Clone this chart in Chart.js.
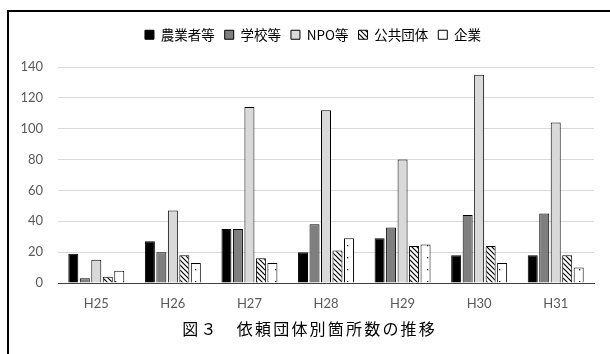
<!DOCTYPE html>
<html>
<head>
<meta charset="utf-8">
<script src="https://cdn.jsdelivr.net/npm/chart.js@4/dist/chart.umd.min.js"></script>
<style>
  html, body { margin: 0; padding: 0; background: #fff; }
  #wrap { position: relative; width: 610px; height: 354px; }
  #frame { position: absolute; left: 7px; top: 10px; width: 620px; height: 360px;
           border-left: 2px solid #000; border-top: 2px solid #000; pointer-events: none; }
  canvas { position: absolute; left: 0; top: 0; }
</style>
</head>
<body>
<div id="wrap">
  <canvas id="chart" width="610" height="354"></canvas>
  <div id="frame"></div>
</div>
<script>
// 年度
const years = ['H25', 'H26', 'H27', 'H28', 'H29', 'H30', 'H31'];
// 依頼団体別の箇所数
const farmers  = [19, 27, 35, 20, 29, 18, 18];     // 農業者等
const schools  = [3, 20, 35, 38, 36, 44, 45];      // 学校等
const npos     = [15, 47, 114, 112, 80, 135, 104]; // NPO等
const publicOrgs = [4, 18, 16, 21, 24, 24, 18];    // 公共団体
const companies  = [8, 13, 13, 29, 25, 13, 10];    // 企業
const yTicks = [0, 20, 40, 60, 80, 100, 120, 140];
const caption = '図３　依頼団体別箇所数の推移';

function hatchPattern() {
  const c = document.createElement('canvas');
  c.width = 5; c.height = 5;
  const g = c.getContext('2d');
  g.fillStyle = '#fff'; g.fillRect(0, 0, 5, 5);
  g.strokeStyle = '#000'; g.lineWidth = 1.2;
  g.beginPath();
  g.moveTo(-1, -1); g.lineTo(6, 6);
  g.moveTo(-1, 4); g.lineTo(1, 6);
  g.moveTo(4, -1); g.lineTo(6, 1);
  g.stroke();
  return g.createPattern(c, 'repeat');
}
function dotPattern() {
  const c = document.createElement('canvas');
  c.width = 8; c.height = 12;
  const g = c.getContext('2d');
  g.fillStyle = '#fff'; g.fillRect(0, 0, 8, 12);
  g.fillStyle = '#000';
  g.fillRect(3, 5, 1.3, 1.3);
  return g.createPattern(c, 'repeat');
}

const jp = '"Noto Sans CJK JP", "Noto Sans", sans-serif';
const num = 'Lato, "Open Sans", sans-serif';

const mk = (label, data, fill) => ({
  label, data, backgroundColor: fill, borderColor: '#000', borderWidth: 1,
  categoryPercentage: 0.75, barPercentage: 0.87
});

// 凡例の高さを固定してプロット領域の上端を揃え、凡例を少し右へ寄せる
const legendBox = {
  id: 'legendBox',
  beforeInit(chart) {
    const fit = chart.legend.fit;
    chart.legend.fit = function () {
      fit.bind(chart.legend)();
      this.height = 49;
    };
  },
  afterLayout(chart) {
    chart.legend.left += 24;
  }
};

// 図の見出し（一文字ずつ字間をあけて描く）
const captionPlugin = {
  id: 'captionText',
  afterDraw(chart) {
    const ctx = chart.ctx;
    const chars = Array.from(caption);
    const gap = 2.2;
    ctx.save();
    ctx.font = '16px ' + jp;
    ctx.fillStyle = '#000';
    ctx.textAlign = 'left';
    ctx.textBaseline = 'middle';
    const widths = chars.map(ch => ctx.measureText(ch).width);
    const total = widths.reduce((a, b) => a + b, 0) + gap * (chars.length - 1);
    let x = 308.5 - total / 2;
    chars.forEach((ch, i) => {
      ctx.fillText(ch, x, 329);
      x += widths[i] + gap;
    });
    ctx.restore();
  }
};

new Chart(document.getElementById('chart'), {
  type: 'bar',
  data: {
    labels: years,
    datasets: [
      mk('農業者等', farmers, '#000000'),
      mk('学校等', schools, '#7f7f7f'),
      mk('NPO等', npos, '#d9d9d9'),
      mk('公共団体', publicOrgs, hatchPattern()),
      mk('企業', companies, dotPattern())
    ]
  },
  plugins: [legendBox, captionPlugin],
  options: {
    responsive: false,
    animation: false,
    layout: { padding: { left: 8, right: 16, top: 18, bottom: 34 } },
    plugins: {
      legend: {
        position: 'top',
        labels: {
          boxWidth: 9, boxHeight: 9, padding: 10,
          color: '#000',
          font: { family: jp, size: 13.5 }
        }
      },
      title: { display: false },
      tooltip: { enabled: false }
    },
    scales: {
      x: {
        afterFit: s => { s.height = 37; },
        grid: { display: false, drawTicks: false },
        border: { color: '#404040', width: 1 },
        ticks: { color: '#595959', font: { family: num, size: 13 }, padding: 13 }
      },
      y: {
        min: 0, max: 140,
        afterBuildTicks: s => { s.ticks = yTicks.map(v => ({ value: v })); },
        afterFit: s => { s.width = 50; },
        grid: { color: '#d9d9d9', drawTicks: false },
        border: { display: false },
        ticks: { color: '#595959', font: { family: num, size: 13 }, padding: 15 }
      }
    }
  }
});
</script>
</body>
</html>
